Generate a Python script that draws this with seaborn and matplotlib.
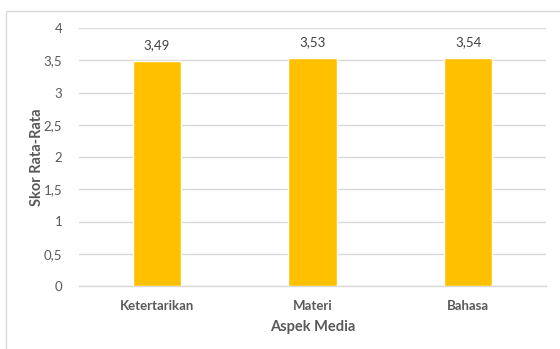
import matplotlib
matplotlib.use("Agg")
import matplotlib.pyplot as plt
import seaborn as sns
import pandas as pd
from matplotlib.patches import Rectangle

categories = ["Ketertarikan", "Materi", "Bahasa"]
values = [3.49, 3.53, 3.54]
value_labels = ["3,49", "3,53", "3,54"]
y_ticks = [0, 0.5, 1, 1.5, 2, 2.5, 3, 3.5, 4]
y_tick_labels = ["0", "0,5", "1", "1,5", "2", "2,5", "3", "3,5", "4"]

df = pd.DataFrame({"Aspek": categories, "Skor": values})

sns.set_theme(style="white")
plt.rcParams['font.family'] = ['Lato', 'DejaVu Sans']

W, H = 560, 349
fig = plt.figure(figsize=(5.6, 3.49), dpi=100)
ax = fig.add_axes([79 / W, 1 - 286 / H, 467 / W, 258 / H])

sns.barplot(data=df, x="Aspek", y="Skor", color="#FFC000", saturation=1,
            width=0.31, ax=ax, zorder=3)

ax.set_ylim(0, 4)
ax.set_xlim(-0.5, 2.5)
ax.set_yticks(y_ticks)
ax.set_yticklabels(y_tick_labels, fontsize=9.5, color="#595959")
ax.yaxis.grid(True, color="#d9d9d9", linewidth=1, zorder=0)
ax.set_axisbelow(True)
for s in ["top", "right", "left"]:
    ax.spines[s].set_visible(False)
ax.spines["bottom"].set_color("#d9d9d9")
ax.spines["bottom"].set_linewidth(1)
ax.tick_params(axis="y", length=0, pad=12)
ax.tick_params(axis="x", length=0, pad=10)
for lbl in ax.get_xticklabels():
    lbl.set_fontsize(9.5)
    lbl.set_fontweight("bold")
    lbl.set_color("#595959")

ax.set_xlabel("Aspek Media", fontsize=10.5, fontweight="bold", color="#595959", labelpad=6)
ax.set_ylabel("Skor Rata-Rata", fontsize=10.5, fontweight="bold", color="#595959", labelpad=0)

for container in ax.containers:
    ax.bar_label(container, labels=value_labels, padding=7, fontsize=9.5, color="#404040")

fig.patches.append(Rectangle((5.5 / W, -0.1), 1.1, 1 - 11.5 / H + 0.1,
                             transform=fig.transFigure, fill=False,
                             edgecolor="#d9d9d9", linewidth=1))

fig.savefig("out.png", dpi=100)
